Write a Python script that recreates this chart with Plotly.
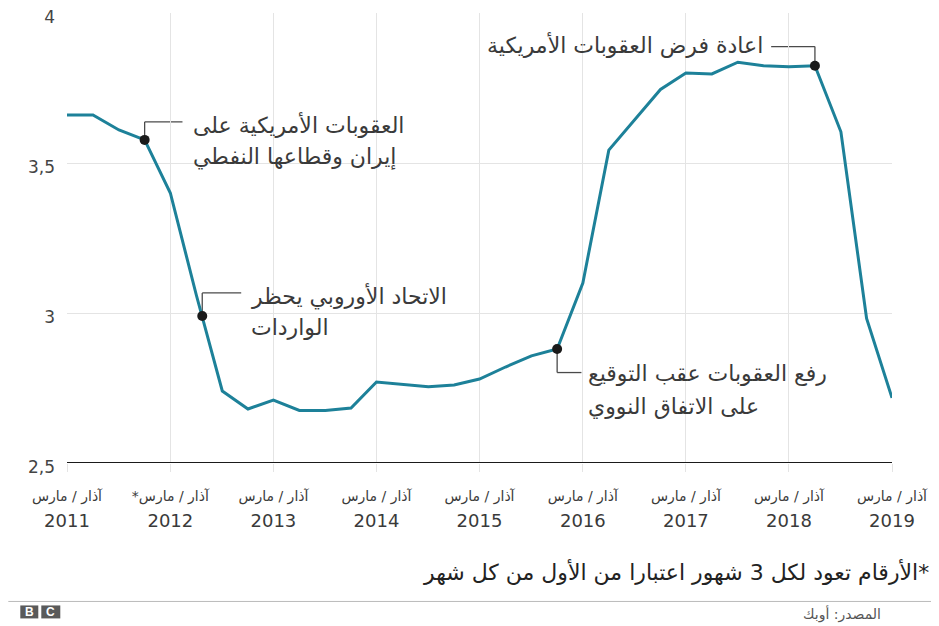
import plotly.graph_objects as go

# ---------------- data ----------------
dates = [
    "2011-03-01", "2011-06-01", "2011-09-01", "2011-12-01",
    "2012-03-01", "2012-06-01", "2012-09-01", "2012-12-01",
    "2013-03-01", "2013-06-01", "2013-09-01", "2013-12-01",
    "2014-03-01", "2014-06-01", "2014-09-01", "2014-12-01",
    "2015-03-01", "2015-06-01", "2015-09-01", "2015-12-01",
    "2016-03-01", "2016-06-01", "2016-09-01", "2016-12-01",
    "2017-03-01", "2017-06-01", "2017-09-01", "2017-12-01",
    "2018-03-01", "2018-06-01", "2018-09-01", "2018-12-01",
    "2019-03-01",
]
production = [
    3.66, 3.66, 3.61, 3.577,
    3.40, 3.06, 2.74, 2.68,
    2.71, 2.675, 2.675, 2.683,
    2.77, 2.763, 2.754, 2.76,
    2.78, 2.82, 2.857, 2.88,
    3.10, 3.543, 3.643, 3.745,
    3.80, 3.797, 3.836, 3.824,
    3.821, 3.824, 3.604, 2.982,
    2.717,
]

tick_dates = ["2011-03-01", "2012-03-01", "2013-03-01", "2014-03-01", "2015-03-01",
              "2016-03-01", "2017-03-01", "2018-03-01", "2019-03-01"]
tick_years = ["2011", "2012", "2013", "2014", "2015", "2016", "2017", "2018", "2019"]
tick_months = ["آذار / مارس", "*آذار / مارس", "آذار / مارس", "آذار / مارس", "آذار / مارس",
               "آذار / مارس", "آذار / مارس", "آذار / مارس", "آذار / مارس"]

y_ticks = [2.5, 3, 3.5, 4]
y_ticktext = ["2,5", "3", "3,5", "4"]

event_dates = ["2011-12-01", "2012-06-22", "2015-12-01", "2018-06-01"]
event_values = [3.577, 2.99, 2.88, 3.824]
event_labels = [
    ["العقوبات الأمريكية على", "إيران وقطاعها النفطي"],
    ["الاتحاد الأوروبي يحظر", "الواردات"],
    ["رفع العقوبات عقب التوقيع", "على الاتفاق النووي"],
    ["اعادة فرض العقوبات الأمريكية"],
]

footnote = "\u200F*الأرقام تعود لكل 3 شهور اعتبارا من الأول من كل شهر"
source = "المصدر: أوبك"

# ---------------- styles ----------------
LINE_COLOR = "#1d8199"
TEXT_COLOR = "#3a3a3a"
GRID = "#e4e4e4"
AR_FONT = "DejaVu Sans"

fig = go.Figure()
fig.add_trace(go.Scatter(
    x=dates, y=production, mode="lines",
    line=dict(color=LINE_COLOR, width=3), hoverinfo="skip", showlegend=False,
))
fig.add_trace(go.Scatter(
    x=event_dates, y=event_values, mode="markers",
    marker=dict(color="#1a1a1a", size=10), hoverinfo="skip", showlegend=False,
))

# leader lines: (dot date, dot value) -> elbow value -> end date
leaders = [
    ("2011-12-01", 3.577, 3.637, "2012-04-13"),
    ("2012-06-22", 2.99, 3.067, "2012-11-07"),
    ("2015-12-01", 2.88, 2.8015, "2016-02-25"),
    ("2018-06-01", 3.824, 3.888, "2017-12-28"),
]
for d, v0, v1, d1 in leaders:
    fig.add_shape(type="line", xref="x", yref="y", x0=d, x1=d, y0=v0, y1=v1,
                  line=dict(color="#4a4a4a", width=1.3), layer="below")
    fig.add_shape(type="line", xref="x", yref="y", x0=d, x1=d1, y0=v1, y1=v1,
                  line=dict(color="#4a4a4a", width=1.3), layer="below")

# annotation text positions
label_pos = [
    ("2012-05-12", [3.626, 3.52], "left"),
    ("2012-12-04", [3.056, 2.953], "left"),
    ("2016-03-13", [2.797, 2.687], "left"),
    ("2017-12-05", [3.892], "right"),
]
for (d, ys, anchor), lines in zip(label_pos, event_labels):
    for yv, txt in zip(ys, lines):
        fig.add_annotation(x=d, y=yv, xref="x", yref="y", text=txt, showarrow=False,
                           xanchor=anchor, yanchor="middle",
                           font=dict(family=AR_FONT, size=22, color=TEXT_COLOR))

ticktext = [f"<span style='font-size:14px'>{m}</span><br><span style='font-size:18px'>{y}</span>"
            for m, y in zip(tick_months, tick_years)]

fig.update_xaxes(
    type="date", range=["2011-03-01", "2019-03-01"],
    tickvals=tick_dates, ticktext=ticktext,
    showgrid=True, gridcolor=GRID, gridwidth=1,
    ticks="outside", ticklen=8, tickcolor=GRID, ticklabelstandoff=5,
    tickfont=dict(family=AR_FONT, size=20, color=TEXT_COLOR),
    showline=False, zeroline=False, automargin=False,
)
fig.update_yaxes(
    range=[2.5, 4], tickvals=y_ticks, ticktext=y_ticktext,
    showgrid=True, gridcolor=GRID, gridwidth=1,
    tickfont=dict(family="DejaVu Sans", size=17, color="#444444"),
    ticks="", ticklabelstandoff=11, ticklabelshift=4, ticklabeloverflow="allow",
    zeroline=False, showline=False, automargin=False,
)
# baseline at 2.5
fig.add_shape(type="line", xref="x domain", yref="y", x0=0, x1=1, y0=2.5, y1=2.5,
              line=dict(color="#1a1a1a", width=2))

# page offset (body margin) in the browser window
OFF = 8
W, H = 939, 626
L = 66.7 - OFF
T = 12.5 - OFF
R = W - (891.7 - OFF)
B = H - (463.3 - OFF)
pw, ph = W - L - R, H - T - B


def px_x(px):
    return (px - OFF - L) / pw


def px_y(py):
    return (H - B - (py - OFF)) / ph


fig.add_annotation(xref="paper", yref="paper", x=px_x(931), y=px_y(572), text=footnote,
                   showarrow=False, xanchor="right", yanchor="middle",
                   font=dict(family=AR_FONT, size=22, color="#222222"))
fig.add_annotation(xref="paper", yref="paper", x=px_x(883), y=px_y(615), text=source,
                   showarrow=False, xanchor="right", yanchor="middle",
                   font=dict(family=AR_FONT, size=14, color="#555555"))
fig.add_shape(type="line", xref="paper", yref="paper", x0=px_x(OFF), x1=px_x(W),
              y0=px_y(602), y1=px_y(602), line=dict(color="#bbbbbb", width=1))

# BBC logo blocks
for (x0, x1), letter in zip([(20, 38), (41, 60)], ["B", "C"]):
    fig.add_shape(type="rect", xref="paper", yref="paper", x0=px_x(x0), x1=px_x(x1),
                  y0=px_y(619), y1=px_y(606), fillcolor="#5a5a5a", line=dict(width=0))
    fig.add_annotation(xref="paper", yref="paper", x=px_x((x0 + x1) / 2), y=px_y(612.5),
                       text=f"<b>{letter}</b>", showarrow=False, xanchor="center",
                       yanchor="middle", font=dict(family="Liberation Sans", size=12, color="white"))

fig.update_layout(
    width=W, height=H, margin=dict(l=L, r=R, t=T, b=B),
    paper_bgcolor="white", plot_bgcolor="white", showlegend=False,
)

fig.write_html("out.html")
